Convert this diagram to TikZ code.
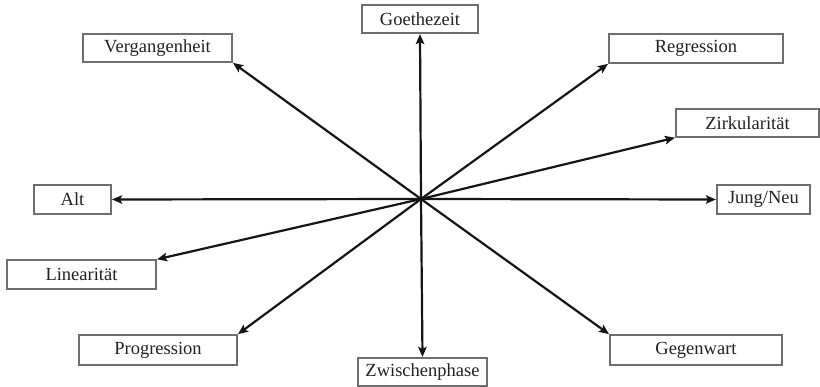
\documentclass[tikz,border=0pt]{standalone}
\usepackage{fontspec}
\setmainfont{Liberation Serif}
\usetikzlibrary{arrows.meta}
\definecolor{boxline}{HTML}{6E6E6E}
\definecolor{labeltext}{HTML}{222222}
\definecolor{axis}{HTML}{151515}
\begin{document}
\begin{tikzpicture}[x=1pt,y=-1pt,
  label box/.style={draw=boxline, line width=1.2pt, rectangle, inner sep=0pt,
    text=labeltext, font=\fontsize{18.5}{21}\selectfont, fill=white},
  ray/.style={draw=axis, line width=2.2pt, -{Stealth[length=10pt,width=8.5pt,inset=2pt]}, shorten >=0.5pt}]
\useasboundingbox (0,0) rectangle (820,387);
\coordinate (c) at (421,199);
% labelled boxes around the centre
\node[label box, minimum width=116pt, minimum height=28pt] (goe)  at (420,19)      {Goethezeit};
\node[label box, minimum width=149pt, minimum height=28pt] (verg) at (157.5,48)    {Vergangenheit};
\node[label box, minimum width=174pt, minimum height=29pt] (reg)  at (696,48.5)    {Regression};
\node[label box, minimum width=143pt, minimum height=28pt] (zirk) at (747.5,123)   {Zirkularität};
\node[label box, minimum width=77pt,  minimum height=29pt] (alt)  at (72.5,199.5)  {Alt};
\node[label box, minimum width=93pt,  minimum height=29pt] (jung) at (763.5,199.5) {Jung/Neu};
\node[label box, minimum width=149pt, minimum height=29pt] (lin)  at (81.5,274.5)  {Linearität};
\node[label box, minimum width=158pt, minimum height=30pt] (prog) at (158,350)     {Progression};
\node[label box, minimum width=129pt, minimum height=28pt] (zw)   at (422.5,372)   {Zwischenphase};
\node[label box, minimum width=172pt, minimum height=30pt] (geg)  at (696,350)     {Gegenwart};
% rays from the centre to each box
\draw[ray] (c) -- (goe.south);
\draw[ray] (c) -- (verg.south east);
\draw[ray] (c) -- (reg.south west);
\draw[ray] (c) -- (zirk.south west);
\draw[ray] (c) -- (alt.east);
\draw[ray] (c) -- (jung.west);
\draw[ray] (c) -- (lin.north east);
\draw[ray] (c) -- (prog.north east);
\draw[ray] (c) -- (zw.north);
\draw[ray] (c) -- (geg.north west);
\end{tikzpicture}
\end{document}
